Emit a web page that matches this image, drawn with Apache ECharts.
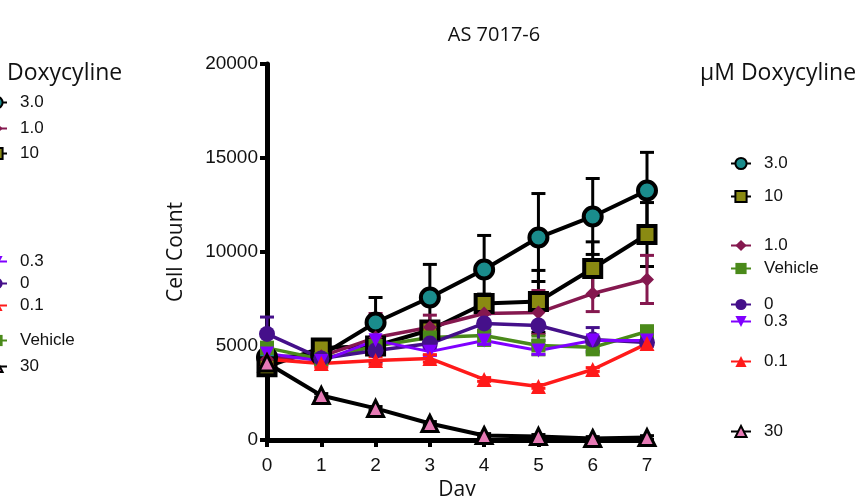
<!DOCTYPE html>
<html><head><meta charset="utf-8">
<script src="https://cdn.jsdelivr.net/npm/echarts@6/dist/echarts.min.js"></script>
<style>html,body{margin:0;padding:0;background:#fff}#c{width:857px;height:496px}</style>
</head><body><div id="c"></div>
<script>
const days = [0,1,2,3,4,5,6,7];
const yTicks = [0,5000,10000,15000,20000];
const names = ['3.0','10','1.0','Vehicle','0','0.3','0.1','30'];
const v3_0   = [4400,4500,6250,7580,9070,10770,11890,13270];
const e3_0   = [300,300,1330,1760,1810,2340,2020,2030];
const v10    = [3900,4900,5000,5850,7260,7370,9120,10930];
const e10    = [300,300,300,400,500,1650,1420,1700];
const v1_0   = [4300,4450,5450,6000,6730,6780,7790,8540];
const e1_0   = [300,200,1280,640,900,1170,960,1280];
const vVeh   = [4900,4300,5000,5450,5560,5030,4930,5770];
const eVeh   = [300,200,200,300,530,500,400,300];
const v0     = [5640,4340,4760,5130,6200,6090,5340,5190];
const e0     = [900,200,200,300,500,800,640,200];
const v0_3   = [4600,4200,5300,4700,5290,4760,5290,5290];
const e0_3   = [200,200,200,200,200,200,200,200];
const v0_1   = [4300,4070,4230,4340,3220,2850,3750,5130];
const e0_1   = [200,200,200,200,100,100,100,100];
const v30    = [4100,2370,1680,880,240,190,80,130];
const e30    = [100,100,100,100,100,100,100,100];

const cfg = [
 {name:'3.0', v:v3_0, e:e3_0, line:'#000', fill:'#1a8c8c', border:'#000', bw:4, sym:'circle', size:18, lw:4, rot:0},
 {name:'10', v:v10, e:e10, line:'#000', fill:'#8a8a12', border:'#000', bw:4, sym:'rect', size:17, lw:4, rot:0},
 {name:'1.0', v:v1_0, e:e1_0, line:'#85184f', fill:'#85184f', border:'#85184f', bw:0, sym:'diamond', size:14, lw:3.5, rot:0},
 {name:'Vehicle', v:vVeh, e:eVeh, line:'#4a8a1a', fill:'#4a8a1a', border:'#4a8a1a', bw:0, sym:'rect', size:14, lw:3.5, rot:0},
 {name:'0', v:v0, e:e0, line:'#45108a', fill:'#45108a', border:'#45108a', bw:0, sym:'circle', size:16, lw:3.5, rot:0},
 {name:'0.3', v:v0_3, e:e0_3, line:'#8000ff', fill:'#8000ff', border:'#8000ff', bw:0, sym:'triangle', size:14, lw:3, rot:180},
 {name:'0.1', v:v0_1, e:e0_1, line:'#ff1a1a', fill:'#ff1a1a', border:'#ff1a1a', bw:0, sym:'triangle', size:15, lw:3.5, rot:0},
 {name:'30', v:v30, e:e30, line:'#000', fill:'#e67ab5', border:'#000', bw:3, sym:'triangle', size:16, lw:4, rot:0}
];

const series = [];
cfg.forEach(c => {
  series.push({
    type:'custom', name:c.name+'_err', silent:true, z:1,
    data: days.map((d,i)=>[d, c.v[i], c.e[i]]),
    renderItem:(params, api) => {
      const x = api.value(0), y = api.value(1), e = api.value(2);
      const top = api.coord([x, y+e]), bot = api.coord([x, y-e]);
      const w = 7;
      const st = {stroke:c.line, lineWidth:3};
      return {type:'group', children:[
        {type:'line', shape:{x1:top[0],y1:top[1],x2:bot[0],y2:bot[1]}, style:st},
        {type:'line', shape:{x1:top[0]-w,y1:top[1],x2:top[0]+w,y2:top[1]}, style:st},
        {type:'line', shape:{x1:bot[0]-w,y1:bot[1],x2:bot[0]+w,y2:bot[1]}, style:st}
      ]};
    }
  });
});
cfg.forEach(c => {
  series.push({
    type:'line', name:c.name, z:3,
    data: days.map((d,i)=>[d, c.v[i]]),
    symbol:c.sym, symbolSize:c.size, symbolRotate:c.rot,
    lineStyle:{color:c.line, width:c.lw},
    itemStyle:{color:c.fill, borderColor:c.border, borderWidth:c.bw},
    showSymbol:true, animation:false
  });
});

const rightPos = {'3.0':165,'10':198,'1.0':247,'Vehicle':270,'0':306,'0.3':323,'0.1':363,'30':433};
const leftPos = {'3.0':104,'1.0':130,'10':155,'0.3':263,'0':285,'0.1':307,'Vehicle':342,'30':368};
const legends = [];
names.forEach(n => {
  legends.push({data:[n], left:730, top:rightPos[n]-10, itemWidth:20, itemHeight:14, itemGap:0, padding:0, selectedMode:false,
    textStyle:{fontFamily:'Liberation Sans', fontSize:17, color:'#111', padding:[0,0,0,8]}});
  legends.push({data:[n], left:-14, top:leftPos[n]-10, itemWidth:20, itemHeight:14, itemGap:0, padding:0, selectedMode:false,
    textStyle:{fontFamily:'Liberation Sans', fontSize:17, color:'#111', padding:[0,0,0,8]}});
});

const chart = echarts.init(document.getElementById('c'), null, {renderer:'canvas'});
chart.setOption({
  animation:false,
  backgroundColor:'#fff',
  title:{text:'AS 7017-6', left:489, top:20, textAlign:'center',
    textStyle:{fontFamily:'Open Sans', fontWeight:'normal', fontSize:20, color:'#111'}},
  grid:{left:267, right:210, top:64, bottom:56, containLabel:false, outerBoundsMode:'none'},
  legend: legends,
  graphic:[
    {type:'text', left:700, top:62, style:{text:'µM Doxycyline', font:'23px "Open Sans"', fill:'#111'}},
    {type:'text', left:7, top:62, style:{text:'Doxycyline', font:'23px "Open Sans"', fill:'#111'}}
  ],
  xAxis:{type:'value', min:0, max:7, interval:1, name:'Day', nameLocation:'middle', nameGap:40,
    nameTextStyle:{fontFamily:'Open Sans', fontSize:21, color:'#111'},
    axisLine:{lineStyle:{color:'#000', width:5}}, axisTick:{length:7, lineStyle:{width:4, color:'#000'}},
    axisLabel:{fontFamily:'Liberation Sans', fontSize:19, color:'#111', margin:16}, splitLine:{show:false}},
  yAxis:{type:'value', min:0, max:20000, interval:5000, name:'Cell Count', nameLocation:'middle', nameGap:80,
    nameTextStyle:{fontFamily:'Open Sans', fontSize:21, color:'#111'},
    axisLine:{show:true, lineStyle:{color:'#000', width:5}}, axisTick:{show:true, length:7, lineStyle:{width:4, color:'#000'}},
    axisLabel:{fontFamily:'Liberation Sans', fontSize:19, color:'#111', margin:9, formatter:v=>String(v)}, splitLine:{show:false}},
  series: series
});
</script></body></html>
